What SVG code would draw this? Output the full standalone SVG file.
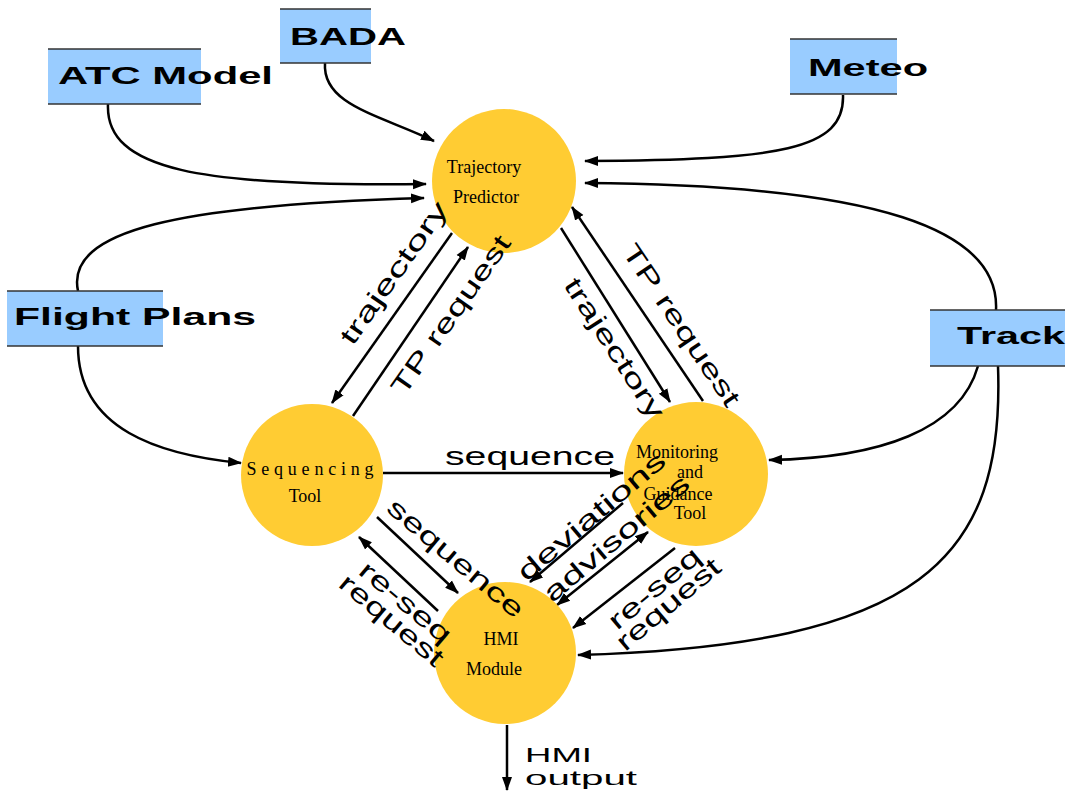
<svg xmlns="http://www.w3.org/2000/svg" width="1073" height="791" viewBox="0 0 1073 791">
<style>
.box{fill:#99CCFF}
.edge{stroke:#333;stroke-width:1.5}
.bt{font-family:"Liberation Sans",Arial,sans-serif;font-weight:bold;font-size:23px;fill:#000}
.circ{fill:#FFCC33}
.ct{font-family:"Liberation Serif","Times New Roman",serif;font-size:18px;fill:#000;text-anchor:middle}
.lb{font-family:"Liberation Sans",Arial,sans-serif;font-size:26px;fill:#000;text-anchor:middle}
.ln{fill:none;stroke:#000;stroke-width:2.5;marker-end:url(#ah)}
</style>
<defs>
<marker id="ah" markerUnits="userSpaceOnUse" markerWidth="14" markerHeight="12" refX="13" refY="5" orient="auto-start-reverse" viewBox="0 0 14 10">
<path d="M0,0 L14,5 L0,10 z" fill="#000"/>
</marker>
</defs>
<rect width="1073" height="791" fill="#fff"/>

<g id="connectors">
<path class="ln" d="M325,63 C322,105 380,115 434,141"/>
<path class="ln" d="M108,104 C105,170 200,187 426,184"/>
<path class="ln" d="M843,95 C845,150 780,160 585,161"/>
<path class="ln" d="M78,291 C65,230 180,205 424,198"/>
<path class="ln" d="M996,310 C1000,230 880,185 585,183"/>
<path class="ln" d="M78,346 C78,430 160,455 241,463"/>
<path class="ln" d="M978,366 C960,430 880,458 769,460"/>
<path class="ln" d="M998,366 C1005,560 920,645 578,655"/>
<path class="ln" d="M452,233 L332,403"/>
<path class="ln" d="M353,416 L468,247"/>
<path class="ln" d="M561,228 L670,402"/>
<path class="ln" d="M703,401 L572,207"/>
<path class="ln" d="M383,473 L623,473"/>
<path class="ln" d="M377,517 L458,593"/>
<path class="ln" d="M438,611 L359,537"/>
<path class="ln" d="M623,503 L530,582"/>
<path class="ln" style="marker-start:url(#ah)" d="M557,605 L648,532"/>
<path class="ln" d="M675,548 L573,628"/>
<path class="ln" d="M507,725 L507,790"/>
</g>

<g id="atc-model">
<rect class="box" x="48" y="49" width="153" height="55"/>
<line class="edge" x1="48" y1="49" x2="201" y2="49"/><line class="edge" x1="48" y1="104" x2="201" y2="104"/>
<text class="bt" x="58" y="84" textLength="215" lengthAdjust="spacingAndGlyphs">ATC Model</text>
</g>
<g id="bada">
<rect class="box" x="280" y="9" width="91" height="54"/>
<line class="edge" x1="280" y1="9" x2="371" y2="9"/><line class="edge" x1="280" y1="63" x2="371" y2="63"/>
<text class="bt" x="290" y="45" textLength="116" lengthAdjust="spacingAndGlyphs">BADA</text>
</g>
<g id="meteo">
<rect class="box" x="790" y="39" width="107" height="55"/>
<line class="edge" x1="790" y1="39" x2="897" y2="39"/><line class="edge" x1="790" y1="94" x2="897" y2="94"/>
<text class="bt" x="808" y="76" textLength="120" lengthAdjust="spacingAndGlyphs">Meteo</text>
</g>
<g id="flight-plans">
<rect class="box" x="7" y="291" width="156" height="55"/>
<line class="edge" x1="7" y1="291" x2="163" y2="291"/><line class="edge" x1="7" y1="346" x2="163" y2="346"/>
<text class="bt" x="14" y="325" textLength="242" lengthAdjust="spacingAndGlyphs">Flight Plans</text>
</g>
<g id="track">
<rect class="box" x="930" y="310" width="135" height="56"/>
<line class="edge" x1="930" y1="310" x2="1065" y2="310"/><line class="edge" x1="930" y1="366" x2="1065" y2="366"/>
<text class="bt" x="957" y="344" textLength="108" lengthAdjust="spacingAndGlyphs">Track</text>
</g>

<g id="trajectory-predictor">
<circle class="circ" cx="504" cy="181" r="72"/>
<text class="ct" x="484" y="173">Trajectory</text>
<text class="ct" x="486" y="203">Predictor</text>
</g>
<g id="sequencing-tool">
<circle class="circ" cx="312" cy="475" r="71"/>
<text class="ct" x="310" y="475" textLength="127" lengthAdjust="spacing">Sequencing</text>
<text class="ct" x="305" y="502">Tool</text>
</g>
<g id="monitoring-guidance-tool">
<circle class="circ" cx="696" cy="474" r="72"/>
<text class="ct" x="677" y="458">Monitoring</text>
<text class="ct" x="690" y="478">and</text>
<text class="ct" x="678" y="500">Guidance</text>
<text class="ct" x="690" y="519">Tool</text>
</g>
<g id="hmi-module">
<circle class="circ" cx="505" cy="653" r="71"/>
<text class="ct" x="501" y="645">HMI</text>
<text class="ct" x="494" y="675">Module</text>
</g>

<g id="labels">
<text class="lb" transform="translate(401,278) rotate(-55)" textLength="168" lengthAdjust="spacingAndGlyphs">trajectory</text>
<text class="lb" transform="translate(458,320) rotate(-55)" textLength="188" lengthAdjust="spacingAndGlyphs">TP request</text>
<text class="lb" transform="translate(607,353) rotate(57)" textLength="162" lengthAdjust="spacingAndGlyphs">trajectory</text>
<text class="lb" transform="translate(674,330) rotate(56)" textLength="190" lengthAdjust="spacingAndGlyphs">TP request</text>
<text class="lb" x="530" y="465" textLength="170" lengthAdjust="spacingAndGlyphs">sequence</text>
<text class="lb" transform="translate(450,565) rotate(40)" textLength="170" lengthAdjust="spacingAndGlyphs">sequence</text>
<text class="lb" transform="translate(400,609) rotate(40)" textLength="112" lengthAdjust="spacingAndGlyphs">re-seq</text>
<text class="lb" transform="translate(386,627) rotate(40)" textLength="128" lengthAdjust="spacingAndGlyphs">request</text>
<text class="lb" transform="translate(597,523) rotate(-40)" textLength="185" lengthAdjust="spacingAndGlyphs">deviations</text>
<text class="lb" transform="translate(622,545) rotate(-40)" textLength="182" lengthAdjust="spacingAndGlyphs">advisories</text>
<text class="lb" transform="translate(660,595) rotate(-40)" textLength="112" lengthAdjust="spacingAndGlyphs">re-seq</text>
<text class="lb" transform="translate(674,611) rotate(-40)" textLength="128" lengthAdjust="spacingAndGlyphs">request</text>
<text class="lb" x="525" y="762" style="text-anchor:start;font-size:20px" textLength="67" lengthAdjust="spacingAndGlyphs">HMI</text>
<text class="lb" x="525" y="785" style="text-anchor:start;font-size:20px" textLength="112" lengthAdjust="spacingAndGlyphs">output</text>
</g>
</svg>
